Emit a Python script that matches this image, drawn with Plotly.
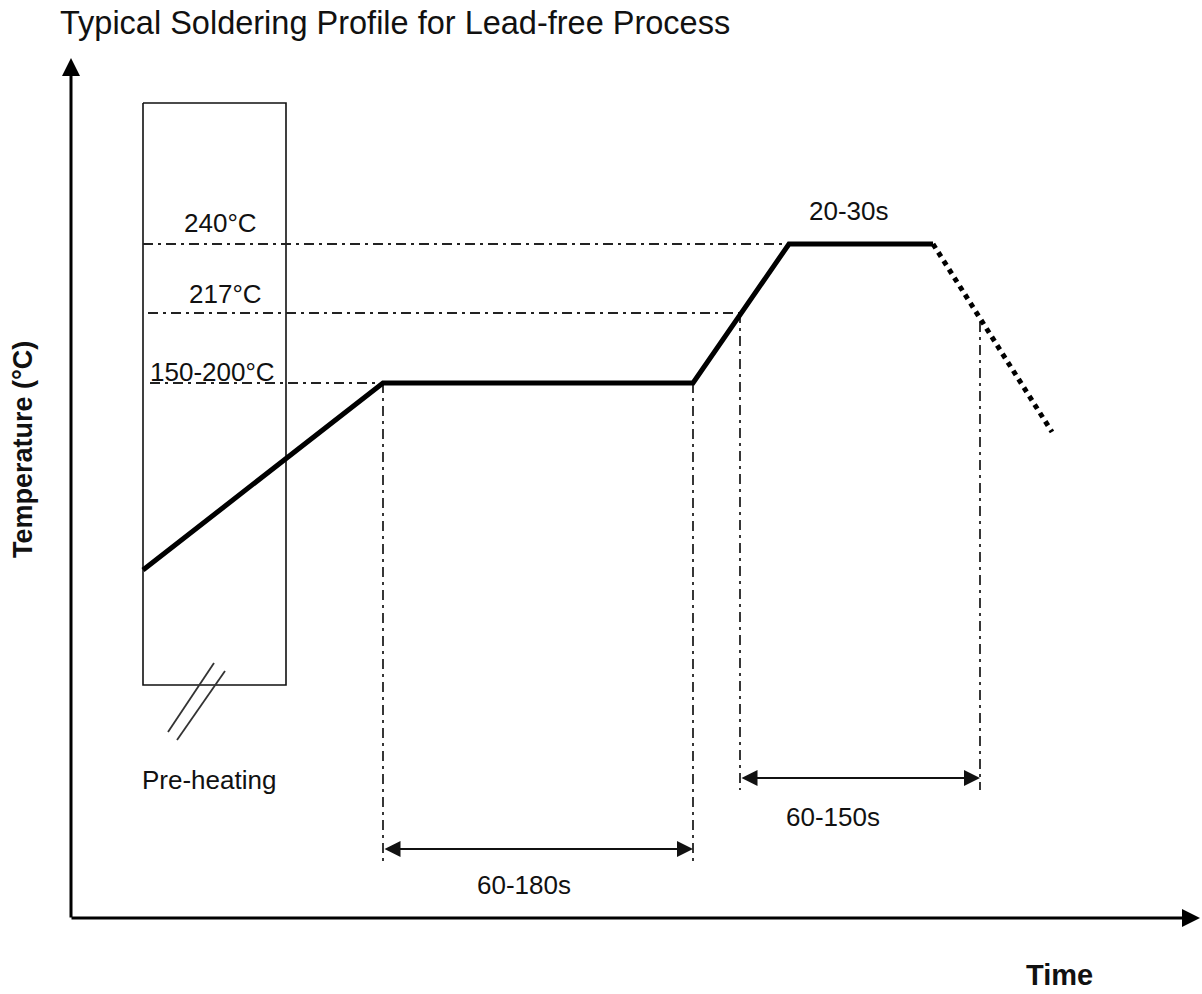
import plotly.graph_objects as go

# ---- diagram data (diagram units: x = time position, y = temperature position, y grows downward) ----
profile_time = [143, 383, 693, 789, 933]
profile_temp = [570, 383, 383, 244, 244]

cool_time = [933, 1052]
cool_temp = [244, 432]

level_labels = ["240°C", "217°C", "150-200°C"]
level_temp = [244, 313, 383]
level_start = [143, 148, 150]
level_end = [789, 741, 383]
level_label_x = [220, 225, 212]
level_label_y = [221, 292, 370]

marker_time = [383, 693, 740, 980]
marker_top = [383, 383, 313, 322]
marker_bottom = [862, 862, 790, 790]

span_start = [383, 740]
span_end = [693, 980]
span_level = [849, 778]
span_labels = ["60-180s", "60-150s"]
span_label_x = [524, 833]
span_label_y = [883, 815]

peak_label = "20-30s"
peak_label_pos = (849, 209)

preheat_box_x = [143, 286]
preheat_box_y = [103, 685]
break_marks = [([168, 214], [732, 663]), ([177, 225], [740, 671])]
preheat_label = "Pre-heating"
preheat_label_pos = (209, 777)

axis_origin = (71, 918)
axis_x_end = 1200
axis_y_end = 58

title_text = "Typical Soldering Profile for Lead-free Process"
x_title = "Time"
y_title = "Temperature (°C)"

FONT = "Liberation Sans, Arial, sans-serif"
DASHDOT = "10px,5px,3px,5px"
GUIDE = "#222222"

fig = go.Figure()

# pre-heating box
fig.add_trace(go.Scatter(
    x=[preheat_box_x[0], preheat_box_x[1], preheat_box_x[1], preheat_box_x[0], preheat_box_x[0]],
    y=[preheat_box_y[0], preheat_box_y[0], preheat_box_y[1], preheat_box_y[1], preheat_box_y[0]],
    mode="lines", line=dict(color="#111111", width=1.6), hoverinfo="skip"))

# break marks
for bx, by in break_marks:
    fig.add_trace(go.Scatter(x=bx, y=by, mode="lines",
                             line=dict(color="#333333", width=1.8), hoverinfo="skip"))

# horizontal temperature levels
for t, s, e in zip(level_temp, level_start, level_end):
    fig.add_trace(go.Scatter(x=[s, e], y=[t, t], mode="lines",
                             line=dict(color=GUIDE, width=1.8, dash=DASHDOT), hoverinfo="skip"))

# vertical time markers
for xm, top, bot in zip(marker_time, marker_top, marker_bottom):
    fig.add_trace(go.Scatter(x=[xm, xm], y=[top, bot], mode="lines",
                             line=dict(color=GUIDE, width=1.8, dash=DASHDOT), hoverinfo="skip"))

# profile
fig.add_trace(go.Scatter(x=profile_time, y=profile_temp, mode="lines",
                         line=dict(color="#000000", width=5), hoverinfo="skip"))
fig.add_trace(go.Scatter(x=cool_time, y=cool_temp, mode="lines",
                         line=dict(color="#000000", width=5, dash="5px,5px"), hoverinfo="skip"))

ann = []
# axes arrows
ann.append(dict(x=axis_origin[0], y=axis_y_end, ax=axis_origin[0], ay=axis_origin[1] + 1,
                xref="x", yref="y", axref="x", ayref="y", text="", showarrow=True,
                arrowhead=2, arrowsize=1.2, arrowwidth=3, arrowcolor="#000000"))
ann.append(dict(x=axis_x_end, y=axis_origin[1], ax=axis_origin[0] - 1, ay=axis_origin[1],
                xref="x", yref="y", axref="x", ayref="y", text="", showarrow=True,
                arrowhead=2, arrowsize=1.2, arrowwidth=3, arrowcolor="#000000"))

# span arrows
for s, e, lv in zip(span_start, span_end, span_level):
    ann.append(dict(x=e, y=lv, ax=s, ay=lv, xref="x", yref="y", axref="x", ayref="y",
                    text="", showarrow=True, arrowside="end+start",
                    arrowhead=2, startarrowhead=2, arrowsize=1.6, startarrowsize=1.6,
                    arrowwidth=2, arrowcolor="#111111"))

def label(txt, x, y, size=26, anchor="center", bold=False, angle=0):
    return dict(x=x, y=y, xref="x", yref="y", text=("<b>%s</b>" % txt) if bold else txt,
                showarrow=False, xanchor=anchor, yanchor="middle", textangle=angle,
                font=dict(family=FONT, size=size, color="#111111"))

for lab, lx, ly in zip(level_labels, level_label_x, level_label_y):
    ann.append(label(lab, lx, ly + 2))
for lab, lx, ly in zip(span_labels, span_label_x, span_label_y):
    ann.append(label(lab, lx, ly + 2))
ann.append(label(peak_label, peak_label_pos[0], peak_label_pos[1] + 2))
ann.append(label(preheat_label, preheat_label_pos[0], preheat_label_pos[1] + 3))
ann.append(label(title_text, 58, 23, size=32.5, anchor="left"))
ann.append(label(x_title, 1059, 975, size=29, bold=True))
ann.append(label(y_title, 23, 450, size=27, bold=True, angle=-90))

fig.update_layout(
    width=1202, height=994,
    margin=dict(l=0, r=0, t=0, b=0),
    paper_bgcolor="white", plot_bgcolor="white",
    showlegend=False,
    xaxis=dict(range=[0, 1202], visible=False, fixedrange=True),
    yaxis=dict(range=[994, 0], visible=False, fixedrange=True),
    annotations=ann,
)

fig.write_html("out.html", config={"displayModeBar": False},
               post_script="document.body.style.margin='0';document.body.style.overflow='hidden';")
